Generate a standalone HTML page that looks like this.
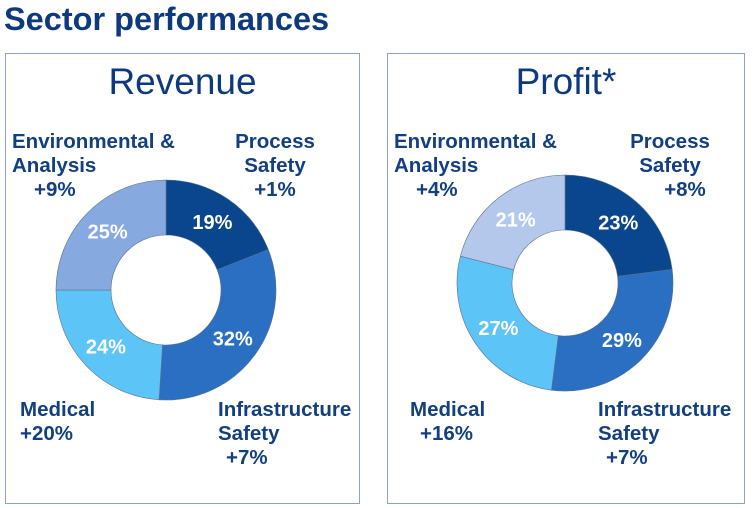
<!DOCTYPE html>
<html><head><meta charset="utf-8"><style>
body{margin:0;width:753px;height:508px;background:#fff;font-family:"Liberation Sans",sans-serif;position:relative;overflow:hidden}
.t{position:absolute;color:#0d3a7e;font-weight:bold}
.box{position:absolute;border:1.5px solid #8aa4c8;box-sizing:border-box}
.lbl{position:absolute;color:#123f80;font-weight:bold;font-size:20.5px;line-height:24px;text-align:center}
svg{position:absolute;left:0;top:0}
</style></head><body>
<div class="t" style="left:4px;top:1px;font-size:32.5px">Sector performances</div>
<div class="box" style="left:5px;top:53px;width:355px;height:451px"></div>
<div class="box" style="left:387px;top:53px;width:358px;height:451px"></div>
<div class="t" style="left:5px;width:355px;text-align:center;top:61px;font-size:37px;font-weight:normal">Revenue</div>
<div class="t" style="left:387px;width:358px;text-align:center;top:61px;font-size:37px;font-weight:normal">Profit*</div>

<div class="lbl" style="left:12px;top:130px;text-align:left">Environmental &amp;<br>Analysis<br><span style="margin-left:22px">+9%</span></div>
<div class="lbl" style="left:225px;top:130px;width:100px">Process<br>Safety<br>+1%</div>
<div class="lbl" style="left:20px;top:398px;text-align:left">Medical<br>+20%</div>
<div class="lbl" style="left:218px;top:398px;text-align:left">Infrastructure<br>Safety<br><span style="margin-left:8px">+7%</span></div>

<div class="lbl" style="left:394px;top:130px;text-align:left">Environmental &amp;<br>Analysis<br><span style="margin-left:22px">+4%</span></div>
<div class="lbl" style="left:620px;top:130px;width:100px">Process<br>Safety<br><span style="margin-left:30px">+8%</span></div>
<div class="lbl" style="left:410px;top:398px;text-align:left">Medical<br><span style="margin-left:10px">+16%</span></div>
<div class="lbl" style="left:598px;top:398px;text-align:left">Infrastructure<br>Safety<br><span style="margin-left:8px">+7%</span></div>

<svg id="s" width="753" height="508"></svg>
<script>
const sectors=["Process Safety","Infrastructure Safety","Medical","Environmental & Analysis"];
const revenueShares=[19,32,24,25];
const profitShares=[23,29,27,21];
const revColors=["#0a468e","#2a6fc2","#5cc4f6","#86a9e0"];
const profColors=["#0a468e","#2a6fc2","#5cc4f6","#b3c8ea"];
const svg=document.getElementById('s');
const NS="http://www.w3.org/2000/svg";
function donut(vals,colors,cx,cy,ro,ri,prefix){
  const tot=vals.reduce((a,b)=>a+b,0);let a0=0;
  vals.forEach((v,i)=>{
    const a1=a0+v/tot*2*Math.PI;
    const p=(a,r)=>[cx+r*Math.sin(a),cy-r*Math.cos(a)];
    const [x1,y1]=p(a0,ro),[x2,y2]=p(a1,ro),[x3,y3]=p(a1,ri),[x4,y4]=p(a0,ri);
    const lg=(a1-a0)>Math.PI?1:0;
    const path=document.createElementNS(NS,'path');
    path.setAttribute('d',`M${x1},${y1}A${ro},${ro} 0 ${lg} 1 ${x2},${y2}L${x3},${y3}A${ri},${ri} 0 ${lg} 0 ${x4},${y4}Z`);
    path.setAttribute('fill',colors[i]);path.setAttribute('stroke','#5a7090');path.setAttribute('stroke-width','0.6');
    
    
    svg.appendChild(path);
    const am=(a0+a1)/2,[tx,ty]=p(am,(ro+ri)/2);
    const t=document.createElementNS(NS,'text');
    t.setAttribute('x',tx);t.setAttribute('y',ty+7);t.setAttribute('text-anchor','middle');
    t.setAttribute('fill','#fff');t.setAttribute('font-weight','bold');t.setAttribute('font-size','20');
    t.setAttribute('font-family','Liberation Sans, sans-serif');
    t.textContent=v+'%';
    
    
    svg.appendChild(t);
    a0=a1;
  });
}
donut(revenueShares,revColors,166,290,110,55,'revenue');
donut(profitShares,profColors,565,283,108,53,'profit');
</script>
</body></html>
